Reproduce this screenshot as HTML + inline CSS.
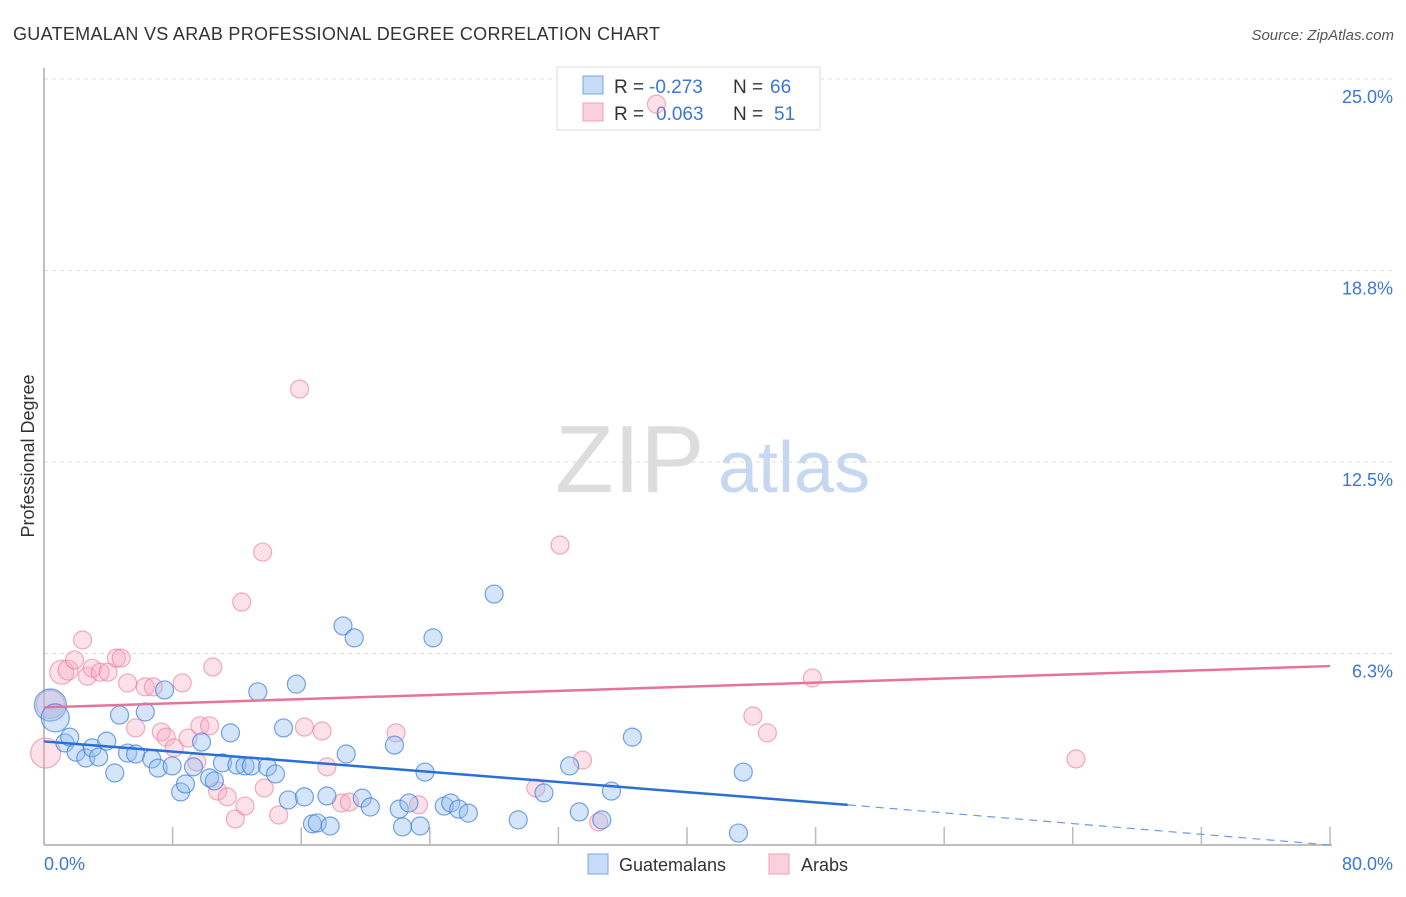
<!DOCTYPE html>
<html><head><meta charset="utf-8"><style>
body{margin:0;background:#fff;font-family:"Liberation Sans",sans-serif;}
svg text{font-family:"Liberation Sans",sans-serif;}
</style></head><body>
<svg id="c" width="1406" height="892" xmlns="http://www.w3.org/2000/svg">
<text x="13" y="40" font-size="18" fill="#333" textLength="647">GUATEMALAN VS ARAB PROFESSIONAL DEGREE CORRELATION CHART</text>
<text x="1394" y="40" font-size="15" fill="#555" font-style="italic" text-anchor="end">Source: ZipAtlas.com</text>
<text x="555" y="492" font-size="96" fill="#ddd" font-family="Liberation Serif">ZIP</text>
<text x="718" y="492" font-size="72" fill="#c5d8ef">atlas</text>
<g id="grid"></g>
<g id="axes"></g>
<g>
<rect x="557" y="67" width="263" height="63" fill="#fff" stroke="#ddd"/>
<rect x="583" y="76" width="20" height="18" fill="#c6dbf6" stroke="#7aa7e0"/>
<rect x="583" y="103" width="20" height="18" fill="#fbd0dc" stroke="#eea3b8"/>
<text x="614" y="93" font-size="19" fill="#333">R =</text>
<text x="649" y="93" font-size="19" fill="#3a78d4">-0.273</text>
<text x="733" y="93" font-size="19" fill="#333">N =</text>
<text x="770" y="93" font-size="19" fill="#3a78d4">66</text>
<text x="614" y="120" font-size="19" fill="#333">R =</text>
<text x="656" y="120" font-size="19" fill="#3a78d4">0.063</text>
<text x="733" y="120" font-size="19" fill="#333">N =</text>
<text x="774" y="120" font-size="19" fill="#3a78d4">51</text>
</g>
<g id="pts"></g>
<g id="lines"></g>
<text transform="translate(34,456) rotate(-90)" font-size="18" fill="#333" text-anchor="middle">Professional Degree</text>
<g>
<rect x="588" y="854" width="20" height="20" fill="#c6dbf6" stroke="#7aa7e0"/>
<text x="619" y="871" font-size="18" fill="#333">Guatemalans</text>
<rect x="769" y="854" width="20" height="20" fill="#fbd0dc" stroke="#eea3b8"/>
<text x="801" y="871" font-size="18" fill="#333">Arabs</text>
</g>
</svg>
<script>
const yTicks=[6.25,12.5,18.75,25];
const yTickLabels=["6.3%","12.5%","18.8%","25.0%"];
const xTicks=[0,8,16,24,32,40,48,56,64,72,80];
const blueX=[0.4,0.7,1.3,1.6,2.0,2.6,3.0,3.4,3.9,4.4,4.7,5.2,5.7,6.3,6.7,7.1,7.5,7.970,8.5,8.8,9.3,9.8,10.3,10.6,11.1,11.6,12.0,12.5,12.9,13.3,13.9,14.4,14.9,15.2,15.7,16.2,16.7,17.0,17.6,17.8,18.6,18.8,19.3,19.8,20.3,21.8,22.1,22.3,22.7,23.4,23.7,24.2,24.9,25.3,25.8,26.4,28.0,29.5,31.1,32.7,33.3,34.7,35.3,36.6,43.2,43.5];
const blueY=[4.57,4.15,3.33,3.52,3.03,2.84,3.17,2.87,3.39,2.35,4.24,3.00,2.97,4.34,2.81,2.51,5.06,2.58,1.73,1.99,2.55,3.36,2.19,2.09,2.68,3.66,2.61,2.58,2.58,5.00,2.55,2.32,3.82,1.47,5.25,1.57,0.69,0.72,1.60,0.62,7.15,2.97,6.76,1.53,1.24,3.26,1.17,0.59,1.37,0.62,2.38,6.76,1.27,1.37,1.17,1.04,8.19,0.82,1.70,2.58,1.08,0.82,1.76,3.52,0.39,2.38];
const blueR=[16,14,9,9,9,9,9,9,9,9,9,9,9,9,9,9,9,9,9,9,9,9,9,9,9,9,9,9,9,9,9,9,9,9,9,9,9,9,9,9,9,9,9,9,9,9,9,9,9,9,9,9,9,9,9,9,9,9,9,9,9,9,9,9,9,9];
const pinkX=[0.1,0.4,1.1,1.5,1.9,2.4,2.7,3.0,3.5,3.980,4.5,4.8,5.2,5.7,6.3,6.8,7.3,7.6,8.1,8.6,8.960,9.5,9.7,10.3,10.5,10.8,11.4,11.9,12.3,12.5,13.6,13.7,14.6,15.9,16.2,17.3,17.6,18.5,19.0,21.9,23.3,30.6,32.1,33.5,34.5,44.1,45.0,47.8,64.2,38.1];
const pinkY=[3.0,4.59,5.64,5.71,6.04,6.69,5.51,5.77,5.64,5.64,6.10,6.10,5.29,3.82,5.16,5.16,3.69,3.52,3.17,5.29,3.49,2.71,3.89,3.89,5.81,1.76,1.57,0.85,7.93,1.27,9.56,1.86,0.98,14.88,3.85,3.72,2.55,1.37,1.40,3.66,1.31,1.86,9.79,2.77,0.75,4.21,3.66,5.45,2.81,24.18];
const pinkR=[15,14,12,10,9,9,9,9,9,9,9,9,9,9,9,9,9,9,9,9,9,9,9,9,9,9,9,9,9,9,9,9,9,9,9,9,9,9,9,9,9,9,9,9,9,9,9,9,9,9];
const blueLine=[[0,3.38],[50,1.31]];
const blueDash=[[50,1.31],[80,0.0]];
const pinkLine=[[0,4.49],[80,5.84]];
const NS="http://www.w3.org/2000/svg";
const X0=44,X1=1330,Y0=845,Y1=79;
const sx=v=>X0+(v/80)*(X1-X0);
const sy=v=>Y0-(v/25)*(Y0-Y1);
function mk(t,a,p){const e=document.createElementNS(NS,t);for(const k in a)e.setAttribute(k,a[k]);p.appendChild(e);return e;}
const grid=document.getElementById('grid'),axes=document.getElementById('axes'),pts=document.getElementById('pts'),lines=document.getElementById('lines');
yTicks.forEach((v,i)=>{
 const g=mk('line',{x1:X0,x2:1394,y1:sy(v),y2:sy(v),stroke:'#ddd','stroke-dasharray':'4,4'},grid);
 
 
 const t=mk('text',{x:1393,y:sy(v)+24,'font-size':18,fill:'#3a78d4','text-anchor':'end'},axes);
 t.textContent=yTickLabels[i];
 
 
});
const ax=mk('line',{x1:X0,x2:X0,y1:68,y2:Y0,stroke:'#aaa','stroke-width':1.5},axes);


const bx=mk('line',{x1:X0,x2:X1+2,y1:Y0,y2:Y0,stroke:'#aaa','stroke-width':1.5},axes);


xTicks.forEach(v=>{if(v===0)return;
 const l=mk('line',{x1:sx(v),x2:sx(v),y1:Y0-18,y2:Y0,stroke:'#bbb','stroke-width':1.5},axes);
 
 
});
const xl0=mk('text',{x:44,y:870,'font-size':18,fill:'#3a78d4'},axes);xl0.textContent='0.0%';


const xl1=mk('text',{x:1393,y:870,'font-size':18,fill:'#3a78d4','text-anchor':'end'},axes);xl1.textContent='80.0%';


pinkX.forEach((v,i)=>{
 const c=mk('circle',{cx:sx(v),cy:sy(pinkY[i]),r:pinkR[i],fill:'rgba(246,170,192,0.35)',stroke:'rgba(232,120,155,0.6)','stroke-width':1.2},pts);
 
 
});
blueX.forEach((v,i)=>{
 const c=mk('circle',{cx:sx(v),cy:sy(blueY[i]),r:blueR[i],fill:'rgba(150,190,240,0.4)',stroke:'rgba(60,125,215,0.7)','stroke-width':1.2},pts);
 
 
});
const bl=mk('line',{x1:sx(blueLine[0][0]),y1:sy(blueLine[0][1]),x2:sx(blueLine[1][0]),y2:sy(blueLine[1][1]),stroke:'#2a6fd6','stroke-width':2.5},lines);


const bd=mk('line',{x1:sx(blueDash[0][0]),y1:sy(blueDash[0][1]),x2:sx(blueDash[1][0]),y2:sy(blueDash[1][1]),stroke:'#6d9be0','stroke-width':1.2,'stroke-dasharray':'8,6'},lines);


const pl=mk('line',{x1:sx(pinkLine[0][0]),y1:sy(pinkLine[0][1]),x2:sx(pinkLine[1][0]),y2:sy(pinkLine[1][1]),stroke:'#e8739a','stroke-width':2.5},lines);


</script>
</body></html>
